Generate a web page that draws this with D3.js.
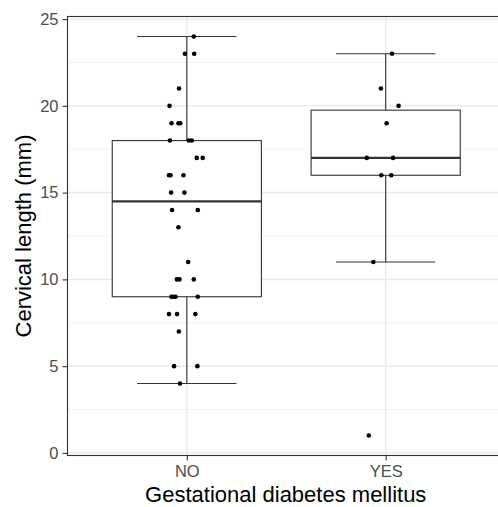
<!DOCTYPE html>
<html>
<head>
<meta charset="utf-8">
<script src="https://cdn.jsdelivr.net/npm/d3@7"></script>
<style>
	body { margin: 0; background: #fff; }
	svg { display: block; font-family: 'Liberation Sans', Arial, sans-serif; }
</style>
</head>
<body>
<script>
var groups = ['NO', 'YES'];

var noValues = [24, 23, 23, 21, 20, 19, 19, 19, 18, 18, 18, 17, 17, 16, 16, 16, 15, 15,
	14, 14, 13, 11, 10, 10, 10, 9, 9, 9, 9, 8, 8, 8, 7, 5, 5, 4];
// horizontal jitter of each point, in category widths
var noJitter = [0.035, -0.01, 0.037, -0.039, -0.087, -0.077, -0.042, -0.033, -0.085, 0.01, 0.025,
	0.05, 0.08, -0.09, -0.082, -0.017, -0.079, -0.012, -0.074, 0.055, -0.042, 0.007,
	-0.05, -0.037, 0.035, -0.077, -0.069, -0.057, 0.055, -0.09, -0.049, 0.043, -0.04, -0.064, 0.053, -0.034];

var yesValues = [23, 21, 20, 19, 17, 17, 16, 16, 11, 1];
var yesJitter = [0.032, -0.024, 0.065, 0.005, -0.095, 0.037, -0.022, 0.028, -0.062, -0.085];

var yTicks = [0, 5, 10, 15, 20, 25];
var yMinor = [2.5, 7.5, 12.5, 17.5, 22.5];

(function() {
	var W = 498, H = 507;
	var margin = {top: 16.5, left: 67.5, bottom: 51.5},
	panelRight = 505,
	height = H - margin.top - margin.bottom;

	var svg = d3.select('body').append('svg')
	.attr('width', W)
	.attr('height', H);

	var x = d3.scalePoint()
	.domain(groups)
	.range([margin.left, panelRight])
	.padding(0.6);
	var step = x.step();

	var y = d3.scaleLinear()
	.domain([-0.15, 25.15])
	.range([margin.top + height, margin.top]);

	var data = [
		{key: 'NO', values: noValues, jitter: noJitter},
		{key: 'YES', values: yesValues, jitter: yesJitter}
	];

	data.forEach(function(g) {
		var s = g.values.slice().sort(d3.ascending);
		g.q1 = d3.quantile(s, 0.25);
		g.med = d3.quantile(s, 0.5);
		g.q3 = d3.quantile(s, 0.75);
		var iqr = g.q3 - g.q1;
		g.lo = d3.min(s.filter(function(v) { return v >= g.q1 - 1.5 * iqr; }));
		g.hi = d3.max(s.filter(function(v) { return v <= g.q3 + 1.5 * iqr; }));
	});

	var panel = svg.append('g');

	// grid
	panel.selectAll('.minor')
	.data(yMinor)
	.enter().append('line')
	.attr('x1', margin.left).attr('x2', panelRight)
	.attr('y1', function(d) { return y(d); })
	.attr('y2', function(d) { return y(d); })
	.attr('stroke', '#f0f0f0')
	.attr('stroke-width', 0.8);

	panel.selectAll('.major')
	.data(yTicks)
	.enter().append('line')
	.attr('x1', margin.left).attr('x2', panelRight)
	.attr('y1', function(d) { return y(d); })
	.attr('y2', function(d) { return y(d); })
	.attr('stroke', '#ebebeb')
	.attr('stroke-width', 1.5);

	panel.selectAll('.vmajor')
	.data(groups)
	.enter().append('line')
	.attr('x1', function(d) { return x(d); })
	.attr('x2', function(d) { return x(d); })
	.attr('y1', margin.top).attr('y2', margin.top + height)
	.attr('stroke', '#ebebeb')
	.attr('stroke-width', 1.5);

	var box = panel.selectAll('.box')
	.data(data)
	.enter().append('g')
	.attr('transform', function(d) { return 'translate(' + x(d.key) + ',0)'; });

	// error bar caps
	box.append('line')
	.attr('x1', -step * 0.25).attr('x2', step * 0.25)
	.attr('y1', function(d) { return y(d.hi); })
	.attr('y2', function(d) { return y(d.hi); });
	box.append('line')
	.attr('x1', -step * 0.25).attr('x2', step * 0.25)
	.attr('y1', function(d) { return y(d.lo); })
	.attr('y2', function(d) { return y(d.lo); });
	box.append('line')
	.attr('x1', 0).attr('x2', 0)
	.attr('y1', function(d) { return y(d.lo); })
	.attr('y2', function(d) { return y(d.hi); });

	box.append('rect')
	.attr('x', -step * 0.375)
	.attr('width', step * 0.75)
	.attr('y', function(d) { return y(d.q3); })
	.attr('height', function(d) { return y(d.q1) - y(d.q3); })
	.attr('fill', '#fff');

	box.selectAll('line, rect')
	.attr('stroke', '#333')
	.attr('stroke-width', 1.1);

	box.append('line')
	.attr('x1', -step * 0.375).attr('x2', step * 0.375)
	.attr('y1', function(d) { return y(d.med); })
	.attr('y2', function(d) { return y(d.med); })
	.attr('stroke', '#333')
	.attr('stroke-width', 2.2);

	// jittered points
	box.selectAll('circle')
	.data(function(d) { return d.values.map(function(v, i) { return {v: v, j: d.jitter[i]}; }); })
	.enter().append('circle')
	.attr('cx', function(d) { return d.j * step; })
	.attr('cy', function(d) { return y(d.v); })
	.attr('r', 2.3)
	.attr('fill', '#000');

	// panel border
	panel.append('rect')
	.attr('x', margin.left)
	.attr('y', margin.top)
	.attr('width', panelRight - margin.left)
	.attr('height', height)
	.attr('fill', 'none')
	.attr('stroke', '#333')
	.attr('stroke-width', 1.1);

	// axes
	var yAxis = svg.append('g')
	.attr('transform', 'translate(' + margin.left + ',0)')
	.call(d3.axisLeft(y).tickValues(yTicks).tickSize(5).tickPadding(4));

	var xAxis = svg.append('g')
	.attr('transform', 'translate(0,' + (margin.top + height) + ')')
	.call(d3.axisBottom(x).tickSize(5).tickPadding(5));

	[yAxis, xAxis].forEach(function(a) {
		a.select('.domain').remove();
		a.selectAll('.tick line').attr('stroke', '#333').attr('stroke-width', 1.1);
		a.selectAll('.tick text')
		.attr('fill', '#4d4d4d')
		.style('font-size', '16.5px')
		.style('font-family', "'Liberation Sans', Arial, sans-serif");
	});

	svg.append('text')
	.attr('transform', 'translate(31,' + (margin.top + height / 2) + ') rotate(-90)')
	.attr('text-anchor', 'middle')
	.style('font-size', '22px')
	.text('Cervical length (mm)');

	svg.append('text')
	.attr('x', (margin.left + panelRight) / 2 - 0.5)
	.attr('y', 502)
	.attr('text-anchor', 'middle')
	.style('font-size', '22px')
	.text('Gestational diabetes mellitus');
}());
</script>
</body>
</html>
